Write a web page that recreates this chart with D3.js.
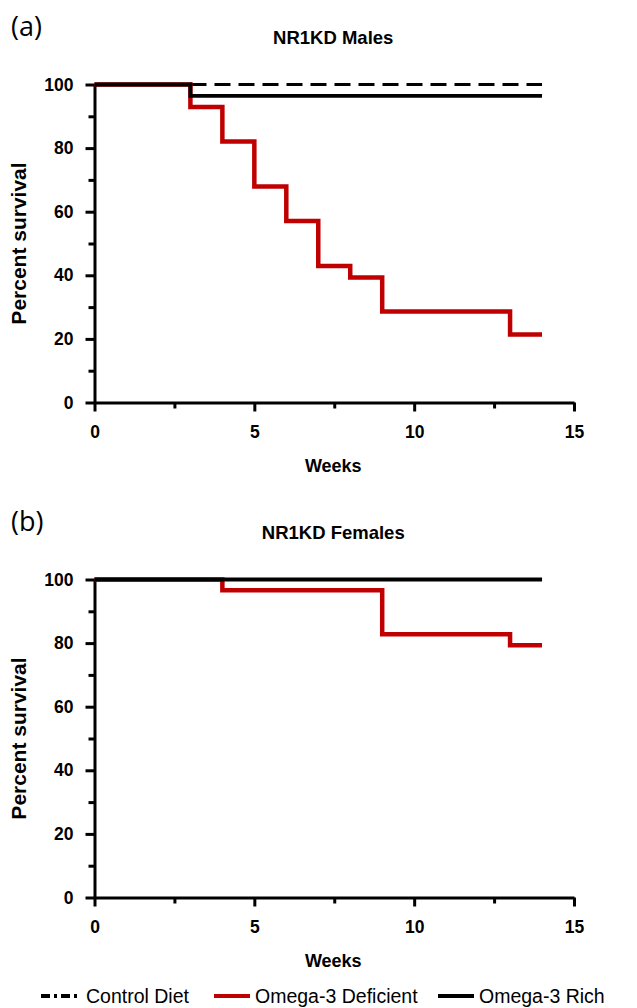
<!DOCTYPE html>
<html>
<head>
<meta charset="utf-8">
<script src="https://cdn.jsdelivr.net/npm/d3@7"></script>
<style>
  body { margin: 0; background: #fff; }
  svg { display: block; }
  text { font-family: "Liberation Sans", Arial, sans-serif; }
</style>
</head>
<body>
<svg id="chart" width="637" height="1008"></svg>
<script>
// survival data, weeks vs percent
var maleDefWeeks  = [0, 3, 4, 5, 6, 7, 8, 9, 13, 14];
var maleDefSurv   = [100, 92.9, 82.1, 67.9, 57.1, 42.9, 39.3, 28.6, 21.4, 21.4];
var maleRichWeeks = [0, 3, 14];
var maleRichSurv  = [100, 96.4, 96.4];
var maleCtrlWeeks = [0, 14];
var maleCtrlSurv  = [100, 100];

var femDefWeeks  = [0, 4, 9, 13, 14];
var femDefSurv   = [100, 96.6, 82.8, 79.3, 79.3];
var femRichWeeks = [0, 14];
var femRichSurv  = [100, 100];
var femCtrlWeeks = [0, 14];
var femCtrlSurv  = [100, 100];

var xTicks = [0, 5, 10, 15];
var xMinor = [2.5, 7.5, 12.5];
var yTicks = [0, 20, 40, 60, 80, 100];
var yMinor = [10, 30, 50, 70, 90];

var legendNames = ["Control Diet", "Omega-3 Deficient", "Omega-3 Rich"];

var red = "#c00000";
var svg = d3.select("#chart");

function zip(xs, ys) { return xs.map(function(x, i) { return [x, ys[i]]; }); }

function drawPanel(top, label, title, ctrl, def, rich) {
    var left = 94.5, width = 479.5, height = 318;
    var x = d3.scaleLinear().domain([0, 15]).range([0, width]);
    var y = d3.scaleLinear().domain([0, 100]).range([height, 0]);

    svg.append("text")
        .attr("x", 11).attr("y", top - 49)
        .style("font-family", "'Open Sans', 'Noto Sans', sans-serif")
        .style("font-size", "27px")
        .text(label);

    svg.append("text")
        .attr("x", left + width / 2 - 1).attr("y", top - 41)
        .attr("text-anchor", "middle")
        .style("font-size", "18.5px").style("font-weight", "bold")
        .text(title);

    var g = svg.append("g").attr("transform", "translate(" + left + "," + top + ")");

    // minor ticks first
    g.append("g").attr("class", "minor")
        .call(d3.axisLeft(y).tickValues(yMinor).tickSize(6).tickFormat(""));
    g.append("g").attr("class", "minor")
        .attr("transform", "translate(0," + height + ")")
        .call(d3.axisBottom(x).tickValues(xMinor).tickSize(6).tickFormat(""));

    g.append("g").attr("class", "major")
        .call(d3.axisLeft(y).tickValues(yTicks).tickSize(9).tickSizeOuter(0).tickPadding(12));
    g.append("g").attr("class", "major")
        .attr("transform", "translate(0," + height + ")")
        .call(d3.axisBottom(x).tickValues(xTicks).tickSize(9).tickSizeOuter(0).tickPadding(14));

    g.selectAll(".minor .domain").remove();
    g.selectAll(".tick line, .domain").attr("stroke", "#000").attr("stroke-width", 3);
    g.selectAll(".tick text")
        .style("font-family", "'Liberation Sans', Arial, sans-serif")
        .style("font-size", "17.5px").style("font-weight", "bold").attr("fill", "#000");

    svg.append("text")
        .attr("transform", "translate(26," + (top + height / 2) + ") rotate(-90)")
        .attr("text-anchor", "middle")
        .style("font-size", "21px").style("font-weight", "bold")
        .text("Percent survival");

    svg.append("text")
        .attr("x", left + width / 2 - 1).attr("y", top + height + 69)
        .attr("text-anchor", "middle")
        .style("font-size", "18px").style("font-weight", "bold")
        .text("Weeks");

    var line = d3.line()
        .x(function(d) { return x(d[0]); })
        .y(function(d) { return y(d[1]); })
        .curve(d3.curveStepAfter);

    g.append("path").datum(ctrl).attr("d", line)
        .attr("fill", "none").attr("stroke", "#000").attr("stroke-width", 3)
        .attr("stroke-dasharray", "16,8");
    g.append("path").datum(def).attr("d", line)
        .attr("fill", "none").attr("stroke", red).attr("stroke-width", 4.5);
    g.append("path").datum(rich).attr("d", line)
        .attr("fill", "none").attr("stroke", "#000").attr("stroke-width", 3.8);
}

drawPanel(84.5, "(a)", "NR1KD Males",
    zip(maleCtrlWeeks, maleCtrlSurv), zip(maleDefWeeks, maleDefSurv), zip(maleRichWeeks, maleRichSurv));
drawPanel(579.5, "(b)", "NR1KD Females",
    zip(femCtrlWeeks, femCtrlSurv), zip(femDefWeeks, femDefSurv), zip(femRichWeeks, femRichSurv));

// legend
var legY = 996;
var legItems = [
    { name: legendNames[0], x: 41, len: 40, color: "#000", dash: "9,4,3,4", w: 4 },
    { name: legendNames[1], x: 214, len: 36, color: red, dash: null, w: 4 },
    { name: legendNames[2], x: 438, len: 36, color: "#000", dash: null, w: 4 }
];
var leg = svg.append("g");
legItems.forEach(function(d) {
    leg.append("line")
        .attr("x1", d.x).attr("x2", d.x + d.len)
        .attr("y1", legY).attr("y2", legY)
        .attr("stroke", d.color).attr("stroke-width", d.w)
        .attr("stroke-dasharray", d.dash);
    leg.append("text")
        .attr("x", d.x + d.len + 5).attr("y", legY + 7)
        .style("font-size", "19.5px")
        .text(d.name);
});
</script>
</body>
</html>
